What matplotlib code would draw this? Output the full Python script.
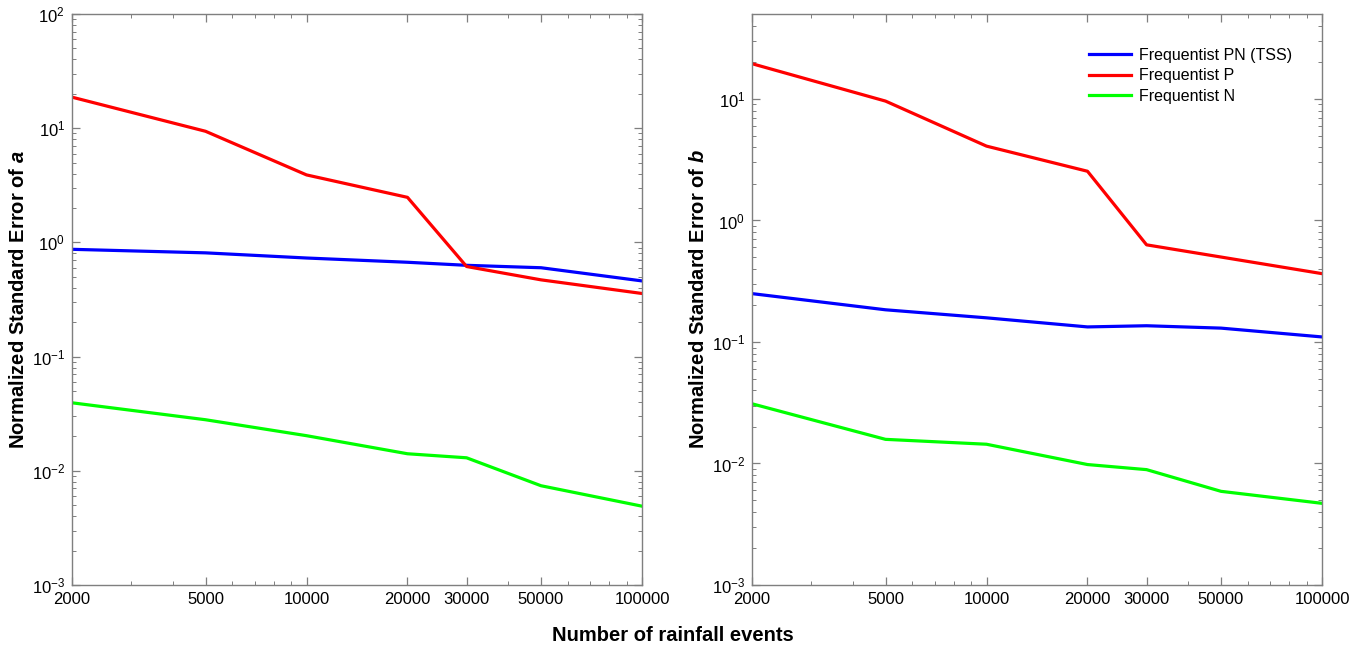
import matplotlib
matplotlib.use("Agg")
import matplotlib.pyplot as plt
from matplotlib.ticker import FixedLocator, NullFormatter, LogLocator, LogFormatterSciNotation

plt.rcParams['font.family'] = ['Liberation Sans', 'DejaVu Sans']
plt.rcParams['mathtext.fontset'] = 'custom'
plt.rcParams['mathtext.rm'] = 'Liberation Sans'
plt.rcParams['mathtext.it'] = 'Liberation Sans:italic'
plt.rcParams['mathtext.bf'] = 'Liberation Sans:bold'
plt.rcParams['mathtext.bfit'] = 'Liberation Sans:italic:bold'

# Number of rainfall events
n_events = [2000, 5000, 10000, 20000, 30000, 50000, 100000]
x_tick_labels = ['2000', '5000', '10000', '20000', '30000', '50000', '100000']

# Normalized standard error of a
se_a_pn = [0.87, 0.81, 0.73, 0.67, 0.63, 0.60, 0.46]
se_a_p = [18.7, 9.4, 3.9, 2.48, 0.615, 0.47, 0.357]
se_a_n = [0.0394, 0.028, 0.0203, 0.0141, 0.013, 0.0074, 0.0049]

# Normalized standard error of b
se_b_pn = [0.25, 0.184, 0.158, 0.133, 0.136, 0.13, 0.11]
se_b_p = [19.5, 9.6, 4.09, 2.54, 0.63, 0.50, 0.365]
se_b_n = [0.031, 0.0158, 0.0144, 0.0098, 0.0089, 0.0059, 0.0047]

series_names = ['Frequentist PN (TSS)', 'Frequentist P', 'Frequentist N']
series_colors = ['#0000ff', '#ff0000', '#00ff00']

W, H = 1362, 649
fig = plt.figure(figsize=(W / 100, H / 100), dpi=100)
ax_a = fig.add_axes([72 / W, 1 - 585 / H, 570 / W, 571 / H])
ax_b = fig.add_axes([752 / W, 1 - 585 / H, 570 / W, 571 / H])

spine_color = '#7f7f7f'

def style_axis(ax, ylabel, ytop):
    ax.set_xscale('log')
    ax.set_yscale('log')
    ax.set_xlim(2000, 100000)
    ax.set_ylim(1e-3, ytop)
    ax.xaxis.set_major_locator(FixedLocator(n_events))
    ax.set_xticklabels(x_tick_labels)
    ax.xaxis.set_minor_locator(LogLocator(base=10, subs=range(1, 10)))
    ax.xaxis.set_minor_formatter(NullFormatter())
    ax.yaxis.set_major_locator(LogLocator(base=10, numticks=20))
    ax.yaxis.set_major_formatter(LogFormatterSciNotation())
    ax.yaxis.set_minor_locator(LogLocator(base=10, subs=range(2, 10), numticks=20))
    ax.yaxis.set_minor_formatter(NullFormatter())
    ax.tick_params(which='both', direction='in', top=True, right=True,
                   color=spine_color, labelsize=12, pad=5)
    ax.tick_params(which='major', length=6, width=0.9)
    ax.tick_params(which='minor', length=3, width=0.7)
    for sp in ax.spines.values():
        sp.set_color(spine_color)
        sp.set_linewidth(1.0)
    ax.set_ylabel(ylabel, fontsize=14.5, fontweight='bold')
    ax.yaxis.set_label_coords(-0.078, 0.5)

for ax, vals in ((ax_a, (se_a_pn, se_a_p, se_a_n)), (ax_b, (se_b_pn, se_b_p, se_b_n))):
    for v, name, c in zip(vals, series_names, series_colors):
        ax.plot(n_events, v, color=c, lw=2.3, label=name)

style_axis(ax_a, r'Normalized Standard Error of $\mathbfit{a}$', 100)
style_axis(ax_b, r'Normalized Standard Error of $\mathbfit{b}$', 50)

ax_b.legend(loc='upper right', bbox_to_anchor=(0.972, 0.966), frameon=False,
            fontsize=11.5, handlelength=2.6, handletextpad=0.5, labelspacing=0.35)

fig.text(673 / W, 1 - 645 / H, 'Number of rainfall events', ha='center', va='bottom',
         fontsize=14.5, fontweight='bold')

fig.savefig('out.png', dpi=100)
